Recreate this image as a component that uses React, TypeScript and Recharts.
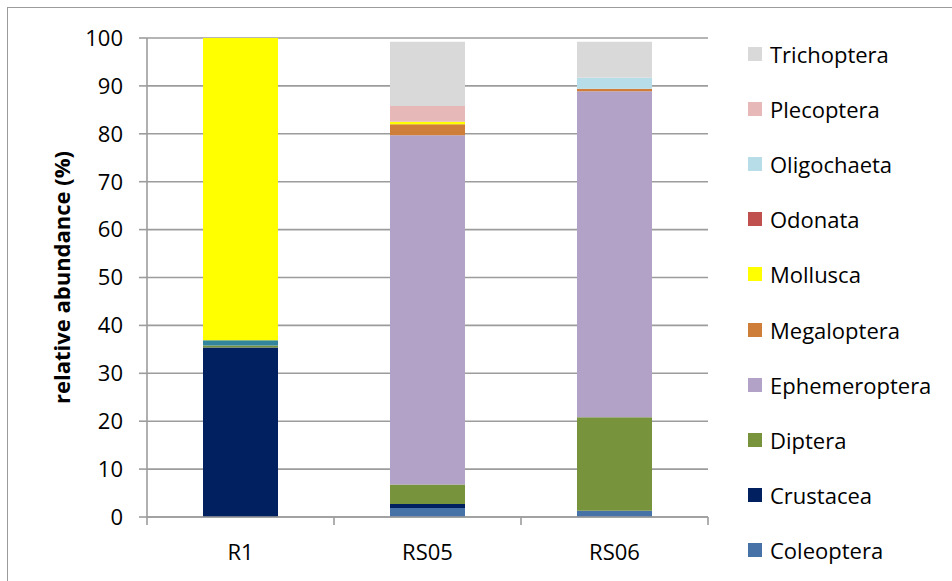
import React from "react";
import { BarChart, Bar, Cell, XAxis, YAxis, CartesianGrid } from "recharts";

const SITES = ["R1", "RS05", "RS06"];

const coleoptera = [0, 1.9, 1.3];
const crustacea = [35.4, 0.8, 0];
const diptera = [0.4, 4.1, 19.5];
const ephemeroptera = [1.1, 72.9, 68.1];
const megaloptera = [0, 2.3, 0.5];
const mollusca = [63.1, 0.5, 0];
const odonata = [0, 0, 0];
const oligochaeta = [0, 0, 2.3];
const plecoptera = [0, 3.3, 0];
const trichoptera = [0, 13.4, 7.5];

const Y_TICKS = [0, 10, 20, 30, 40, 50, 60, 70, 80, 90, 100];

// bottom to top of the stack
const SERIES = [
  { key: "Coleoptera", values: coleoptera, color: "#4672A8" },
  { key: "Crustacea", values: crustacea, color: "#002060" },
  { key: "Diptera", values: diptera, color: "#77933C" },
  { key: "Ephemeroptera", values: ephemeroptera, color: "#B3A2C7" },
  { key: "Megaloptera", values: megaloptera, color: "#CF7E3A" },
  { key: "Mollusca", values: mollusca, color: "#FFFF00" },
  { key: "Odonata", values: odonata, color: "#C0504D" },
  { key: "Oligochaeta", values: oligochaeta, color: "#B7DEE8" },
  { key: "Plecoptera", values: plecoptera, color: "#E6B9B8" },
  { key: "Trichoptera", values: trichoptera, color: "#D9D9D9" },
];

// the R1 ephemeroptera sliver is drawn teal in the original
const CELL_OVERRIDE: Record<string, Record<number, string>> = {
  Ephemeroptera: { 0: "#31859C" },
};

const data = SITES.map((site, i) => {
  const row: Record<string, any> = { site };
  SERIES.forEach((s) => {
    row[s.key] = s.values[i];
  });
  return row;
});

const FONT = "'Open Sans', sans-serif";
const AXIS = "#9c9c9c";

// Excel-style category tick: marks sit on the boundaries between sites
const SiteTick = (props: any) => {
  const { x, y, width, visibleTicksCount, index, payload } = props;
  const band = width / visibleTicksCount;
  const left = x - band / 2;
  const right = x + band / 2;
  const last = index === visibleTicksCount - 1;
  return (
    <g>
      <line x1={left} x2={left} y1={y} y2={y + 8} stroke={AXIS} strokeWidth={1.6} />
      {last && <line x1={right} x2={right} y1={y} y2={y + 8} stroke={AXIS} strokeWidth={1.6} />}
      <text x={x} y={y + 22} dy="0.95em" textAnchor="middle" fill="#000" fontSize={22} fontFamily={FONT}>
        {payload.value}
      </text>
    </g>
  );
};

export default function App() {
  return (
    <div
      style={{
        position: "absolute",
        left: 7,
        top: 7,
        width: 960,
        height: 600,
        border: `1px solid ${AXIS}`,
        background: "#fff",
      }}
    >
      <BarChart
        width={960}
        height={600}
        data={data}
        margin={{ top: 30, right: 260, bottom: 27, left: 0 }}
        barSize={75}
      >
        <CartesianGrid vertical={false} stroke={AXIS} strokeWidth={1.6} />
        <XAxis
          dataKey="site"
          height={64}
          stroke={AXIS}
          strokeWidth={1.6}
          tickLine={false}
          tickSize={0}
          tickMargin={0}
          interval={0}
          tick={SiteTick}
        />
        <YAxis
          width={139}
          domain={[0, 100]}
          ticks={Y_TICKS}
          interval={0}
          tickSize={8}
          tickMargin={16}
          stroke={AXIS}
          strokeWidth={1.6}
          tick={{ fill: "#000", fontSize: 22, fontFamily: FONT }}
          label={{
            value: "relative abundance (%)",
            angle: -90,
            position: "center",
            dx: -15,
            style: { fill: "#000", fontSize: 22, fontWeight: 700, fontFamily: FONT },
          }}
        />
        {SERIES.map((s) => (
          <Bar key={s.key} dataKey={s.key} stackId="a" fill={s.color} isAnimationActive={false}>
            {data.map((_, i) => (
              <Cell key={`${s.key}-${i}`} fill={CELL_OVERRIDE[s.key]?.[i] ?? s.color} />
            ))}
          </Bar>
        ))}
      </BarChart>
      <div
        style={{
          position: "absolute",
          left: 740,
          top: 18,
          fontFamily: FONT,
          fontSize: 22,
          color: "#000",
        }}
      >
        {[...SERIES].reverse().map((s) => (
          <div key={s.key} style={{ display: "flex", alignItems: "center", height: 55.2 }}>
            <span style={{ width: 14, height: 14, background: s.color, marginRight: 8, display: "inline-block" }} />
            <span>{s.key}</span>
          </div>
        ))}
      </div>
    </div>
  );
}
